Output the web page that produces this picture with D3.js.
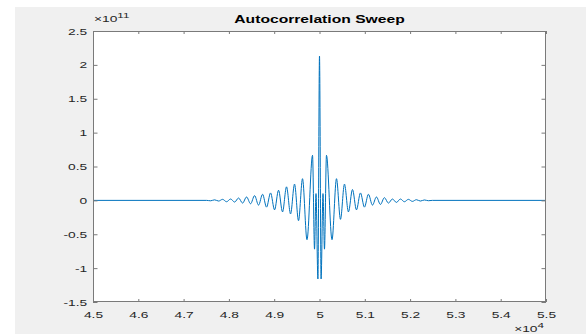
<!DOCTYPE html>
<html>
<head>
<meta charset="utf-8">
<script src="https://cdn.jsdelivr.net/npm/d3@7"></script>
<style>
  body { margin: 0; background: #fff; }
  text { font-family: "Liberation Sans", Arial, sans-serif; }
</style>
</head>
<body>
<svg id="chart" width="586" height="334"></svg>
<script>
// lag index (x) and autocorrelation value in units of 1e11 (y)
const lags = [
  45000, 47508, 47597, 47685, 47773, 47861, 47949, 48038, 48126, 48214,
  48302, 48390, 48479, 48567, 48655, 48743, 48831, 48920, 49008, 49096,
  49184, 49272, 49361, 49449, 49537, 49625, 49724, 49846, 49890, 49923,
  49965, 50000, 50035, 50077, 50110, 50154, 50276, 50375, 50463, 50551,
  50639, 50728, 50816, 50904, 50992, 51080, 51169, 51257, 51345, 51433,
  51521, 51610, 51698, 51786, 51874, 51962, 52051, 52139, 52227, 52315,
  52403, 52492, 55000
];
const corr = [
  0, 0, -0.006, 0.008, -0.01, 0.015, -0.02, 0.02, -0.025, 0.035,
  -0.04, 0.05, -0.05, 0.07, -0.07, 0.09, -0.1, 0.11, -0.14, 0.15,
  -0.17, 0.2, -0.2, 0.24, -0.3, 0.32, -0.58, 0.665, -0.72, 0.1,
  -1.16, 2.13, -1.16, 0.1, -0.72, 0.665, -0.58, 0.32, -0.28, 0.24,
  -0.17, 0.16, -0.14, 0.11, -0.1, 0.09, -0.07, 0.05, -0.06, 0.04,
  -0.04, 0.02, -0.03, 0.02, -0.02, 0.015, -0.015, 0.01, -0.01, 0.006,
  -0.005, 0, 0
];
const xTicks = [45000, 46000, 47000, 48000, 49000, 50000, 51000, 52000, 53000, 54000, 55000];
const xTickLabels = ["4.5", "4.6", "4.7", "4.8", "4.9", "5", "5.1", "5.2", "5.3", "5.4", "5.5"];
const yTicks = [-1.5, -1, -0.5, 0, 0.5, 1, 1.5, 2, 2.5];
const yTickLabels = ["-1.5", "-1", "-0.5", "0", "0.5", "1", "1.5", "2", "2.5"];

const svg = d3.select("#chart");
const plotL = 93, plotR = 546, plotT = 31, plotB = 302;
const stretch = 1.45; // the screenshot is widened horizontally, text included

// grey figure panel
svg.append("rect")
  .attr("x", 15).attr("y", 7)
  .attr("width", 586 - 15).attr("height", 334 - 7)
  .attr("fill", "#f0f0f0");

svg.append("rect")
  .attr("x", plotL).attr("y", plotT)
  .attr("width", plotR - plotL).attr("height", plotB - plotT)
  .attr("fill", "#fff");

const x = d3.scaleLinear().domain([45000, 55000]).range([plotL, plotR]);
const y = d3.scaleLinear().domain([-1.5, 2.5]).range([plotB, plotT]);

const data = lags.map((l, i) => ({ lag: l, v: corr[i] }));

const line = d3.line()
  .x(d => x(d.lag))
  .y(d => y(d.v))
  .curve(d3.curveMonotoneX);

svg.append("path")
  .datum(data)
  .attr("fill", "none")
  .attr("stroke", "#0072bd")
  .attr("stroke-width", 1)
  .attr("d", line);

// axes, ticks pointing inward
const axisColor = "#262626";
function styleAxis(g, showLabels) {
  g.select(".domain").remove();
  g.selectAll(".tick line").attr("stroke", "#7a7a7a");
  g.selectAll(".tick text")
    .attr("fill", axisColor)
    .attr("transform", `scale(${stretch},1)`)
    .style("font-size", "9.5px")
    .style("display", showLabels ? null : "none");
}

svg.append("g")
  .attr("transform", `translate(0,${plotB})`)
  .call(d3.axisBottom(x).tickValues(xTicks).tickFormat((d, i) => xTickLabels[i]).tickSize(-3).tickPadding(9))
  .call(g => styleAxis(g, true));

svg.append("g")
  .attr("transform", `translate(0,${plotT})`)
  .call(d3.axisTop(x).tickValues(xTicks).tickSize(-3))
  .call(g => styleAxis(g, false));

svg.append("g")
  .attr("transform", `translate(${plotL},0)`)
  .call(d3.axisLeft(y).tickValues(yTicks).tickFormat((d, i) => yTickLabels[i]).tickSize(-4.5).tickPadding(4))
  .call(g => styleAxis(g, true));

svg.append("g")
  .attr("transform", `translate(${plotR},0)`)
  .call(d3.axisRight(y).tickValues(yTicks).tickSize(-4.5))
  .call(g => styleAxis(g, false));

// box
svg.append("rect")
  .attr("x", plotL + 0.5).attr("y", plotT + 0.5)
  .attr("width", plotR - plotL - 1).attr("height", plotB - plotT - 1)
  .attr("fill", "none")
  .attr("stroke", "#7a7a7a")
  .attr("stroke-width", 1);

// title
svg.append("g")
  .attr("transform", `translate(${(plotL + plotR) / 2},23) scale(${stretch},1)`)
  .append("text")
  .attr("text-anchor", "middle")
  .attr("fill", "#000")
  .style("font-size", "10.8px")
  .style("font-weight", "bold")
  .text("Autocorrelation Sweep");

// exponent labels
const yExp = svg.append("g")
  .attr("transform", `translate(${plotL + 1},22) scale(${stretch},1)`)
  .append("text")
  .attr("fill", axisColor)
  .style("font-size", "9.5px");
yExp.append("tspan").text("\u00d710");
yExp.append("tspan").attr("dy", -4.5).style("font-size", "8px").text("11");

const xExp = svg.append("g")
  .attr("transform", `translate(${plotR - 2},332) scale(${stretch},1)`)
  .append("text")
  .attr("text-anchor", "end")
  .attr("fill", axisColor)
  .style("font-size", "9.5px");
xExp.append("tspan").text("\u00d710");
xExp.append("tspan").attr("dy", -4.5).style("font-size", "8px").text("4");
</script>
</body>
</html>
